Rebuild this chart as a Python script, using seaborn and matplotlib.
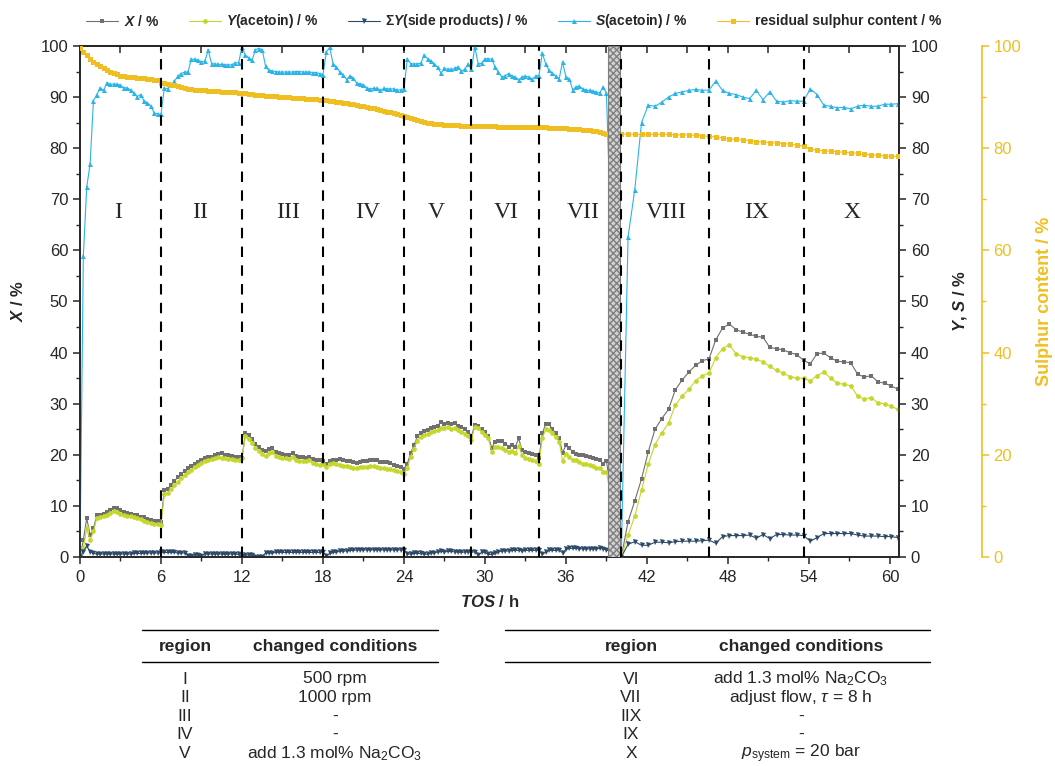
import numpy as np
import pandas as pd
import matplotlib
matplotlib.use("Agg")
import matplotlib.pyplot as plt
import seaborn as sns
from matplotlib.lines import Line2D
from matplotlib.ticker import MultipleLocator

# sampling times (h): every 15 min before the break, every 30 min after
tos_1 = np.arange(0, 39.01, 0.25)
tos_2 = np.arange(40.1, 60.61, 0.5)

# conversion X / %
conv_1 = [0.0, 3.3, 7.6, 4.3, 5.6, 8.2, 8.3, 8.5, 8.9, 9.3, 9.5, 9.5, 9.2, 8.9, 8.7, 8.5, 8.3, 8.2, 7.9, 7.8, 7.4, 7.2, 7.1, 7.1, 6.9,
          13.2, 13.4, 14.1, 14.9, 15.6, 16.2, 16.9, 17.4, 17.8, 18.3, 18.6, 19.0, 19.3, 19.5, 19.6, 19.9, 20.2, 20.4, 20.0, 20.0, 19.8, 19.6, 19.5, 19.4,
          24.2, 23.8, 23.0, 22.2, 21.5, 21.0, 20.7, 21.2, 21.3, 20.6, 20.4, 20.2, 20.0, 20.0, 20.3, 19.8, 19.6, 19.5, 19.4, 19.6, 19.2, 19.0, 18.9, 18.8,
          18.2, 18.7, 19.0, 19.0, 19.1, 18.9, 18.7, 18.8, 18.5, 18.4, 18.6, 18.7, 18.8, 18.9, 19.0, 18.9, 18.6, 18.5, 18.5, 18.4, 18.1, 17.8, 17.7, 17.3,
          18.3, 20.3, 22.0, 23.6, 24.3, 24.6, 24.8, 25.2, 25.5, 25.7, 26.5, 26.1, 26.3, 26.0, 26.2, 25.7, 25.4, 25.0, 24.5, 23.7,
          25.8, 25.6, 25.0, 24.5, 23.7, 21.3, 22.6, 22.8, 22.8, 22.2, 21.6, 21.9, 21.6, 23.2, 20.9, 20.6, 20.4, 20.2, 20.0, 19.3,
          24.2, 26.0, 26.0, 25.0, 24.2, 23.2, 20.4, 21.9, 21.3, 20.6, 20.2, 20.0, 20.0, 19.8, 19.5, 19.3, 19.1, 19.0, 18.3, 18.7]
conv_2 = [0.0, 6.9, 11.0, 15.3, 20.6, 25.0, 27.1, 28.9, 32.7, 34.6, 36.2, 37.5, 38.4, 38.8, 42.5, 44.8, 45.6, 44.5, 44.0, 43.6, 43.2,
          43.0, 41.0, 40.8, 40.5, 40.0, 39.6, 38.5, 37.8, 39.8, 39.9, 39.0, 38.3, 38.2, 38.0, 35.8, 35.2, 35.5, 34.3, 34.0, 33.5, 32.8]

# yield of acetoin / %
yld_1 = [0.0, 1.7, 5.6, 3.3, 5.0, 7.7, 7.9, 8.1, 8.3, 8.7, 9.0, 8.9, 8.5, 8.2, 8.1, 8.0, 7.8, 7.6, 7.4, 7.1, 6.8, 6.7, 6.5, 6.4, 6.3,
         12.3, 12.6, 13.3, 14.0, 14.7, 15.4, 16.0, 16.6, 17.1, 17.6, 18.0, 18.4, 18.7, 18.9, 19.1, 19.3, 19.5, 19.4, 19.3, 19.2, 19.1, 19.0, 19.0, 19.3,
         23.6, 23.0, 22.3, 21.4, 20.8, 20.2, 19.8, 20.4, 20.5, 19.8, 19.6, 19.4, 19.3, 19.2, 19.5, 19.0, 18.8, 18.7, 18.7, 18.9, 18.4, 18.2, 18.0, 18.2,
         17.6, 18.2, 18.4, 18.2, 18.0, 17.9, 17.8, 17.7, 17.5, 17.5, 17.6, 17.7, 17.7, 17.8, 17.8, 17.6, 17.5, 17.4, 17.3, 17.2, 17.0, 16.8, 16.6, 16.2,
         17.5, 19.6, 21.2, 22.8, 23.5, 23.8, 24.1, 24.4, 24.7, 24.9, 25.3, 25.2, 25.4, 25.1, 25.2, 24.8, 24.5, 24.1, 23.6, 22.9,
         25.5, 25.2, 24.5, 23.9, 23.2, 20.6, 21.6, 21.6, 21.3, 20.9, 20.6, 20.8, 20.3, 21.7, 20.0, 19.3, 19.1, 19.0, 18.8, 18.3,
         23.2, 25.0, 24.9, 24.2, 23.4, 22.6, 18.7, 20.2, 19.5, 19.0, 19.0, 18.5, 18.3, 18.2, 18.0, 17.8, 17.5, 17.4, 16.7, 16.7]
yld_2 = [0.0, 4.3, 8.0, 13.1, 18.2, 22.0, 24.3, 26.2, 29.7, 31.5, 32.8, 34.5, 35.5, 36.0, 39.0, 40.8, 41.5, 39.8, 39.2, 39.0, 38.7,
         38.2, 37.3, 36.5, 36.0, 35.3, 35.0, 35.0, 34.5, 35.5, 36.2, 35.0, 34.0, 33.8, 33.5, 31.5, 30.9, 31.2, 30.2, 30.0, 29.5, 28.9]

# sum of side product yields / %
side_1 = [0.0, 1.0, 2.2, 1.0, 0.7, 0.6, 0.6, 0.6, 0.6, 0.6, 0.6, 0.6, 0.6, 0.6, 0.6, 0.6, 0.7, 0.7, 0.7, 0.7, 0.8, 0.8, 0.8, 0.8, 0.9,
          0.9, 0.9, 0.9, 0.9, 0.8, 0.8, 0.8, 0.3, 0.3, 0.4, 0.4, 0.2, 0.6, 0.6, 0.6, 0.6, 0.6, 0.6, 0.5, 0.6, 0.6, 0.6, 0.5, 0.3,
          0.4, 0.4, 0.4, 0.1, 0.1, 0.1, 0.8, 0.8, 0.8, 0.9, 0.9, 0.9, 0.9, 0.9, 0.9, 0.9, 0.9, 0.9, 0.9, 0.9, 0.9, 0.9, 0.9, 1.0,
          0.2, 0.7, 0.9, 1.0, 1.1, 1.2, 1.2, 1.3, 1.3, 1.4, 1.4, 1.4, 1.4, 1.4, 1.4, 1.4, 1.4, 1.4, 1.4, 1.4, 1.4, 1.4, 1.4, 1.4,
          0.6, 0.6, 0.7, 0.7, 0.7, 0.5, 0.6, 0.8, 0.8, 1.0, 1.1, 1.0, 1.1, 1.1, 1.0, 1.0, 0.9, 1.0, 1.0, 1.0,
          1.0, 0.4, 0.9, 0.9, 0.5, 0.5, 0.7, 1.0, 1.2, 1.2, 1.2, 1.3, 1.3, 1.3, 1.2, 1.3, 1.3, 1.3, 1.3, 1.3,
          0.5, 1.0, 1.3, 1.3, 1.3, 1.4, 0.8, 1.5, 1.7, 1.7, 1.7, 1.6, 1.6, 1.6, 1.6, 1.6, 1.6, 1.7, 1.6, 1.4]
side_2 = [0.0, 2.5, 3.0, 2.3, 2.3, 2.9, 2.9, 2.8, 3.0, 3.1, 3.1, 3.1, 3.2, 3.3, 2.7, 4.0, 4.2, 4.2, 4.2, 4.3, 3.7,
          4.4, 3.6, 4.4, 4.4, 4.3, 4.3, 4.2, 3.1, 3.8, 4.6, 4.6, 4.6, 4.6, 4.6, 4.3, 4.1, 4.1, 4.1, 4.0, 4.0, 3.8]

# selectivity to acetoin / %
sel_1 = [0.0, 58.9, 72.4, 76.9, 89.3, 90.5, 91.8, 91.3, 92.8, 92.5, 92.5, 92.5, 92.3, 91.8, 91.8, 91.4, 90.8, 90.1, 90.5, 89.2, 88.9, 88.2, 86.9, 86.7, 86.6,
         91.8, 91.6, 92.3, 93.1, 94.1, 94.6, 94.9, 94.9, 97.4, 97.4, 97.2, 96.9, 97.0, 99.2, 96.5, 96.5, 96.4, 96.4, 96.3, 96.3, 96.3, 96.7, 96.7, 99.8,
         98.2, 97.7, 97.2, 99.3, 99.5, 99.3, 96.0, 95.2, 95.1, 95.0, 94.9, 94.9, 94.9, 94.9, 94.9, 95.0, 95.0, 94.9, 94.9, 94.9, 94.8, 94.8, 94.6, 94.4,
         98.8, 99.7, 96.5, 95.9, 94.9, 94.4, 93.4, 94.2, 93.7, 92.7, 92.6, 92.4, 91.8, 91.6, 91.7, 91.7, 91.3, 91.7, 91.6, 91.6, 91.6, 91.4, 91.4, 91.6,
         97.5, 96.5, 96.5, 96.5, 96.6, 98.2, 97.5, 97.1, 96.5, 95.8, 94.7, 95.6, 95.4, 95.4, 95.6, 95.9, 95.1, 95.4, 96.5, 95.4,
         99.8, 96.5, 96.6, 97.5, 97.5, 97.4, 95.9, 94.9, 93.9, 94.2, 94.6, 94.1, 93.9, 93.4, 93.9, 94.1, 93.9, 93.5, 94.1, 94.2,
         98.6, 96.5, 95.2, 94.7, 94.1, 93.6, 96.9, 93.9, 93.6, 91.4, 92.0, 92.1, 91.6, 91.4, 91.3, 91.2, 91.0, 90.8, 92.0, 90.7]
sel_2 = [0.0, 62.6, 71.9, 85.0, 88.4, 88.2, 89.0, 90.0, 90.7, 91.0, 91.3, 91.5, 91.3, 91.4, 93.1, 91.3, 90.7, 90.5, 90.0, 89.7, 91.3,
         89.5, 91.0, 89.2, 89.0, 89.3, 89.2, 89.2, 91.6, 90.5, 88.4, 88.2, 87.9, 88.0, 87.7, 88.2, 88.4, 88.2, 88.2, 88.6, 88.6, 88.7]

# residual sulphur content / %
sulph_1 = [99.6, 98.9, 98.2, 97.5, 96.9, 96.4, 96.0, 95.6, 95.2, 94.9, 94.7, 94.5, 94.2, 94.1, 94.0, 93.9,
           93.9, 93.8, 93.7, 93.7, 93.6, 93.5, 93.4, 93.3, 92.8, 92.7, 92.6, 92.4, 92.3, 92.1, 92.0, 91.8,
           91.6, 91.5, 91.4, 91.4, 91.3, 91.3, 91.2, 91.2, 91.1, 91.1, 91.0, 91.0, 91.0, 90.9, 90.9, 90.8,
           90.8, 90.7, 90.6, 90.6, 90.5, 90.4, 90.4, 90.3, 90.3, 90.2, 90.2, 90.1, 90.1, 90.0, 90.0, 89.9,
           89.9, 89.8, 89.8, 89.7, 89.7, 89.6, 89.6, 89.5, 89.5, 89.4, 89.3, 89.2, 89.1, 89.0, 88.9, 88.8,
           88.7, 88.6, 88.5, 88.3, 88.2, 88.0, 87.9, 87.8, 87.6, 87.5, 87.3, 87.1, 87.0, 86.8, 86.6, 86.5,
           86.3, 86.1, 85.9, 85.7, 85.5, 85.3, 85.2, 85.0, 84.9, 84.8, 84.7, 84.7, 84.6, 84.6, 84.5, 84.5,
           84.5, 84.4, 84.4, 84.4, 84.4, 84.4, 84.3, 84.3, 84.3, 84.3, 84.3, 84.3, 84.2, 84.2, 84.2, 84.2,
           84.2, 84.2, 84.2, 84.2, 84.2, 84.2, 84.2, 84.2, 84.1, 84.1, 84.1, 84.0, 84.0, 84.0, 83.9, 83.9,
           83.9, 83.8, 83.8, 83.7, 83.7, 83.6, 83.6, 83.5, 83.4, 83.3, 83.1, 83.0, 82.8]
sulph_2 = [82.8, 82.7, 82.7, 82.7, 82.7, 82.7, 82.7, 82.7, 82.6, 82.6, 82.6, 82.5, 82.4, 82.3, 82.2, 82.0, 81.8, 81.7, 81.6, 81.5, 81.3,
           81.2, 81.1, 81.0, 80.9, 80.8, 80.6, 80.4, 79.8, 79.6, 79.5, 79.4, 79.3, 79.2, 79.1, 79.0, 78.8, 78.7, 78.6, 78.5, 78.4, 78.4]

region_names = ["I", "II", "III", "IV", "V", "VI", "VII", "VIII", "IX", "X"]
region_label_x = [2.8, 8.9, 15.4, 21.3, 26.4, 31.6, 37.3, 43.4, 50.1, 57.2]
region_borders = [6, 12, 18, 24, 29, 34, 40.07, 46.6, 53.6]
break_span = (39.1, 40.0)

table_left = [("I", "500 rpm"), ("II", "1000 rpm"), ("III", "-"), ("IV", "-"),
              ("V", r"add 1.3 mol% Na$_\mathregular{2}$CO$_\mathregular{3}$")]
table_right = [("VI", r"add 1.3 mol% Na$_\mathregular{2}$CO$_\mathregular{3}$"),
               ("VII", r"adjust flow, $\tau$ = 8 h"), ("IIX", "-"), ("IX", "-"),
               ("X", r"$p_\mathregular{system}$ = 20 bar")]

tos = np.concatenate([tos_1, tos_2])
df = pd.DataFrame({
    "tos": tos,
    "X": conv_1 + conv_2,
    "Y": yld_1 + yld_2,
    "side": side_1 + side_2,
    "S": sel_1 + sel_2,
    "sulphur": sulph_1 + sulph_2,
})

sns.set_theme(style="ticks")
plt.rcParams.update({
    "font.family": ["Liberation Sans", "DejaVu Sans"],
    "mathtext.fontset": "custom",
    "mathtext.rm": "Liberation Sans",
    "mathtext.it": "Liberation Sans:italic",
    "mathtext.bf": "Liberation Sans:bold",
    "mathtext.bfit": "Liberation Sans:bold:italic",
    "axes.linewidth": 1.2,
    "xtick.major.width": 1.1, "ytick.major.width": 1.1,
    "xtick.minor.width": 1.0, "ytick.minor.width": 1.0,
    "xtick.major.size": 5, "ytick.major.size": 5,
    "xtick.minor.size": 3, "ytick.minor.size": 3,
    "xtick.labelsize": 12, "ytick.labelsize": 12,
})

GOLD = "#efbf22"
fig = plt.figure(figsize=(10.55, 7.66), dpi=100)
ax = fig.add_axes([0.0758, 0.2728, 0.7763, 0.6672])
ax2 = ax.twinx()
ax3 = ax.twinx()
ax3.spines["right"].set_position(("axes", 1.101))
for a in (ax2, ax3):
    a.patch.set_visible(False)

style = dict(estimator=None, sort=False, markeredgewidth=0, linewidth=0.8)
sns.lineplot(data=df, x="tos", y="X", ax=ax, color="#707070", marker="s", markersize=3.2,
             label=r"$\mathbfit{X}$ / %", **style)
sns.lineplot(data=df, x="tos", y="Y", ax=ax2, color="#c5d72a", marker="o", markersize=3.4,
             label=r"$\mathbfit{Y}$(acetoin) / %", **style)
sns.lineplot(data=df, x="tos", y="side", ax=ax2, color="#2d4b68", marker="v", markersize=3.6,
             label=r"$\mathbf{\Sigma}\mathbfit{Y}$(side products) / %", **style)
sns.lineplot(data=df, x="tos", y="S", ax=ax2, color="#2ab4e8", marker="^", markersize=3.6,
             label=r"$\mathbfit{S}$(acetoin) / %", **style)
sns.lineplot(data=df, x="tos", y="sulphur", ax=ax3, color=GOLD, marker="s", markersize=3.6,
             label="residual sulphur content / %", **style)

handles, labels = [], []
for a in (ax, ax2, ax3):
    h, l = a.get_legend_handles_labels()
    handles += h
    labels += l
    if a.get_legend() is not None:
        a.get_legend().remove()
fig.legend(handles, labels, loc="upper center", bbox_to_anchor=(0.487, 1.0), ncol=5,
           frameon=False, handlelength=2.3, columnspacing=2.1, handletextpad=0.4,
           prop=dict(weight="bold", size=10))

# interruption of the run and region borders
ax3.axvspan(*break_span, facecolor="#d2d2d2", edgecolor="#808080", hatch="xxxxx",
            linewidth=0.8, zorder=5)
for b in region_borders:
    ax3.axvline(b, color="black", linestyle=(0, (5, 4)), linewidth=1.5, zorder=6)
for name, xpos in zip(region_names, region_label_x):
    ax3.text(xpos, 67.5, name, ha="center", va="center", fontsize=17,
             family="Liberation Serif", zorder=7)

for a in (ax, ax2, ax3):
    a.set_xlim(0, 60.67)
    a.set_ylim(0, 100)

ax.xaxis.set_major_locator(MultipleLocator(6))
ax.xaxis.set_minor_locator(MultipleLocator(3))
ax.yaxis.set_major_locator(MultipleLocator(10))
ax.yaxis.set_minor_locator(MultipleLocator(5))
ax.tick_params(axis="both", which="both", direction="out", top=False, right=False)
ax.tick_params(axis="x", pad=4)
top = ax.secondary_xaxis("top")
top.xaxis.set_major_locator(MultipleLocator(3))
top.tick_params(direction="in", length=5, labeltop=False)

ax2.yaxis.set_major_locator(MultipleLocator(10))
ax2.yaxis.set_minor_locator(MultipleLocator(5))
ax2.tick_params(axis="y", which="both", direction="out")

ax3.yaxis.set_major_locator(MultipleLocator(20))
ax3.yaxis.set_minor_locator(MultipleLocator(10))
ax3.tick_params(axis="y", which="both", direction="out", colors=GOLD)
for side in ("left", "top", "bottom"):
    ax3.spines[side].set_visible(False)
ax3.spines["right"].set_color(GOLD)

lab = dict(fontsize=12, fontweight="bold")
ax.set_xlabel(r"$\mathbfit{TOS}$ / h", **lab)
ax.set_ylabel(r"$\mathbfit{X}$ / %", **lab)
ax2.set_ylabel(r"$\mathbfit{Y}$, $\mathbfit{S}$ / %", **lab)
ax3.set_ylabel("Sulphur content / %", color=GOLD, fontsize=13, fontweight="bold")
ax.xaxis.set_label_coords(0.5, -0.072)
ax.yaxis.set_label_coords(-0.066, 0.5)
ax2.yaxis.set_label_coords(1.063, 0.5)
ax3.yaxis.set_label_coords(1.167, 0.5)

# table of changed conditions below the chart
def fx(px):
    return px / 1055

def fy(py):
    return 1 - py / 766

def draw_table(rows, x0, x1, xc_reg, xc_cond):
    for yy in (630, 662):
        fig.add_artist(Line2D([fx(x0), fx(x1)], [fy(yy), fy(yy)], color="black", lw=1.0))
    fig.text(fx(xc_reg), fy(646), "region", ha="center", va="center", fontsize=12.5, fontweight="bold")
    fig.text(fx(xc_cond), fy(646), "changed conditions", ha="center", va="center", fontsize=12.5, fontweight="bold")
    for i, (reg, cond) in enumerate(rows):
        yy = 679 + i * 18.6
        fig.text(fx(xc_reg), fy(yy), reg, ha="center", va="center", fontsize=12.5)
        fig.text(fx(xc_cond), fy(yy), cond, ha="center", va="center", fontsize=12.5)

draw_table(table_left, 142, 438, 185, 335)
draw_table(table_right, 505, 930, 631, 801)

fig.savefig("out.png", dpi=100)
